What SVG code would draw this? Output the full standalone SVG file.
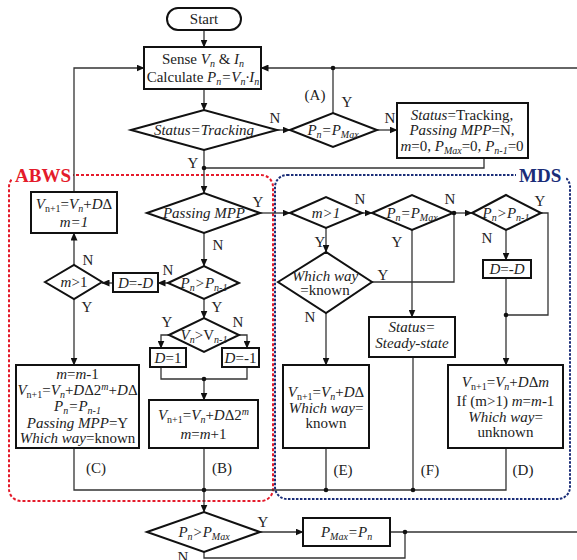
<svg xmlns="http://www.w3.org/2000/svg" width="577" height="560" viewBox="0 0 577 560">
<defs>
<marker id="ar" markerUnits="userSpaceOnUse" markerWidth="8" markerHeight="7" refX="7.5" refY="3.5" orient="auto"><path d="M0,0 L8,3.5 L0,7 z" fill="#111"/></marker>
<style>
.t{font-family:"Liberation Serif","Times New Roman",serif;font-size:15px;fill:#222;text-anchor:middle}
.l{font-family:"Liberation Serif","Times New Roman",serif;font-size:15px;fill:#222;text-anchor:middle}
.i{font-style:italic}
.s{font-size:10px;baseline-shift:-2.5px}
.p{font-size:10px;baseline-shift:5px}
.b{fill:#fff;stroke:#111;stroke-width:2}
.c{fill:none;stroke:#333;stroke-width:1.3}
.a{marker-end:url(#ar)}
.d{fill:#111}
.g{font-family:"Liberation Serif","Times New Roman",serif;font-size:19px;font-weight:bold}
</style>
</defs>
<rect width="577" height="560" fill="#fff"/>

<g id="regions">
<rect x="9" y="175" width="264" height="326" rx="12" fill="none" stroke="#e41b2b" stroke-width="2" stroke-dasharray="3,2"/>
<rect x="275" y="175" width="295" height="324" rx="12" fill="none" stroke="#1a2d78" stroke-width="2" stroke-dasharray="2.5,1.5"/>
<rect x="12" y="164" width="61" height="20" fill="#fff"/>
<text x="15" y="182" class="g" fill="#e41b2b">ABWS</text>
<rect x="516" y="164" width="50" height="20" fill="#fff"/>
<text x="519" y="182" class="g" fill="#1a2d78">MDS</text>
</g>

<g id="connectors">
<path class="c a" d="M204,30 V47"/>
<path class="c a" d="M204,89 V110"/>
<path class="c a" d="M277,130 H290"/>
<path class="c" d="M333,113 V68"/>
<path class="c a" d="M577,68 H261"/>
<path class="c a" d="M377,130 H397"/>
<path class="c" d="M484,158 V168 H204"/>
<path class="c a" d="M204,150 V193"/>
<path class="c a" d="M260,213 H290"/>
<path class="c a" d="M204,233 V266"/>
<path class="c a" d="M168,283 H158"/>
<path class="c a" d="M113,283 H102"/>
<path class="c a" d="M74,265 V233"/>
<path class="c a" d="M74,192 V68 H144"/>
<path class="c a" d="M74,299 V365"/>
<path class="c a" d="M204,299 V318"/>
<path class="c a" d="M169,335 H161 V348"/>
<path class="c a" d="M239,335 H247 V348"/>
<path class="c" d="M161,367 V379 H247 V367"/>
<path class="c a" d="M204,379 V400"/>
<path class="c" d="M74,448 V490 H506 V448"/>
<path class="c" d="M204,448 V490"/>
<path class="c a" d="M204,490 V512"/>
<path class="c" d="M326,448 V490"/>
<path class="c" d="M413,357 V490"/>
<path class="c a" d="M362,213 H372"/>
<path class="c a" d="M453,213 H472"/>
<path class="c" d="M372,282 H454 V213"/>
<path class="c a" d="M326,228 V252"/>
<path class="c a" d="M326,313 V365"/>
<path class="c a" d="M412,230 V317"/>
<path class="c" d="M541,213 H548 V315 H506"/>
<path class="c a" d="M506,230 V260"/>
<path class="c a" d="M506,278 V365"/>
<path class="c a" d="M260,532 H303"/>
<path class="c" d="M390,532 H577"/>
<path class="c" d="M204,552 V558 H405 V532"/>
<circle class="d" cx="333" cy="68" r="2.3"/>
<circle class="d" cx="204" cy="168" r="2.3"/>
<circle class="d" cx="204" cy="379" r="2.3"/>
<circle class="d" cx="204" cy="490" r="2.3"/>
<circle class="d" cx="326" cy="490" r="2.3"/>
<circle class="d" cx="413" cy="490" r="2.3"/>
<circle class="d" cx="454" cy="213" r="2.3"/>
<circle class="d" cx="506" cy="315" r="2.3"/>
<circle class="d" cx="405" cy="532" r="2.3"/>
<text class="l" x="315" y="100">(A)</text>
<text class="l" x="347" y="107">Y</text>
<text class="l" x="275" y="123">N</text>
<text class="l" x="390" y="123">N</text>
<text class="l" x="193" y="168">Y</text>
<text class="l" x="258" y="207">Y</text>
<text class="l" x="218" y="250">N</text>
<text class="l" x="168" y="275">N</text>
<text class="l" x="88" y="265">N</text>
<text class="l" x="87" y="312">Y</text>
<text class="l" x="217" y="312">Y</text>
<text class="l" x="167" y="327">Y</text>
<text class="l" x="238" y="327">N</text>
<text class="l" x="96" y="473">(C)</text>
<text class="l" x="222" y="473">(B)</text>
<text class="l" x="343" y="475">(E)</text>
<text class="l" x="430" y="475">(F)</text>
<text class="l" x="523" y="475">(D)</text>
<text class="l" x="360" y="204">N</text>
<text class="l" x="450" y="204">N</text>
<text class="l" x="540" y="206">Y</text>
<text class="l" x="320" y="247">Y</text>
<text class="l" x="397" y="247">Y</text>
<text class="l" x="487" y="243">N</text>
<text class="l" x="383" y="280">Y</text>
<text class="l" x="310" y="322">N</text>
<text class="l" x="263" y="527">Y</text>
<text class="l" x="183" y="562">N</text>
</g>

<g id="start">
<rect x="167" y="8" width="74" height="22" rx="11" class="b"/>
<text class="t" x="204" y="24">Start</text>
</g>

<g id="sense">
<rect x="144" y="47" width="117" height="42" class="b"/>
<text class="t" x="203" y="64">Sense <tspan class="i">V</tspan><tspan class="s i">n</tspan> &amp; <tspan class="i">I</tspan><tspan class="s i">n</tspan></text>
<text class="t" x="203" y="82">Calculate <tspan class="i">P</tspan><tspan class="s i">n</tspan><tspan class="i">=V</tspan><tspan class="s i">n</tspan><tspan class="i">·I</tspan><tspan class="s i">n</tspan></text>
</g>

<g id="status-tracking">
<polygon points="131,130 204,110 277,130 204,150" class="b"/>
<text class="t i" x="204" y="135">Status=Tracking</text>
</g>

<g id="pn-eq-pmax-a">
<polygon points="290,130 333,113 377,130 333,147" class="b"/>
<text class="t i" x="333" y="135">P<tspan class="s">n</tspan>=P<tspan class="s">Max</tspan></text>
</g>

<g id="reset">
<rect x="397" y="103" width="131" height="55" class="b"/>
<text class="t" x="462" y="120"><tspan class="i">Status</tspan>=Tracking,</text>
<text class="t" x="462" y="135"><tspan class="i">Passing MPP</tspan>=N,</text>
<text class="t" x="462" y="151"><tspan class="i">m</tspan>=0, <tspan class="i">P</tspan><tspan class="s i">Max</tspan>=0, <tspan class="i">P</tspan><tspan class="s i">n-1</tspan>=0</text>
</g>

<g id="passing-mpp">
<polygon points="147,213 204,193 260,213 204,233" class="b"/>
<text class="t i" x="204" y="218">Passing MPP</text>
</g>

<g id="pn-gt-pn1-abws">
<polygon points="168,283 204,266 239,283 204,299" class="b"/>
<text class="t i" x="204" y="288">P<tspan class="s">n</tspan>&gt;P<tspan class="s">n-1</tspan></text>
</g>

<g id="d-neg-abws">
<rect x="113" y="273" width="45" height="19" class="b"/>
<text class="t" x="135.5" y="288"><tspan class="i">D</tspan>=-<tspan class="i">D</tspan></text>
</g>

<g id="m-gt-1-abws">
<polygon points="45,282 74,265 102,282 74,299" class="b"/>
<text class="t" x="74" y="287"><tspan class="i">m</tspan>&gt;1</text>
</g>

<g id="reset-step">
<rect x="31" y="192" width="86" height="41" class="b"/>
<text class="t" x="74" y="209"><tspan class="i">V</tspan><tspan class="s">n+1</tspan>=<tspan class="i">V</tspan><tspan class="s i">n</tspan>+<tspan class="i">D</tspan>Δ</text>
<text class="t i" x="74" y="227">m=1</text>
</g>

<g id="vn-gt-vn1">
<polygon points="169,335 204,318 239,335 204,352" class="b"/>
<text class="t" x="204" y="340"><tspan class="i">V</tspan><tspan class="s i">n</tspan>&gt;V<tspan class="s i">n-1</tspan></text>
</g>

<g id="d-pos1">
<rect x="150" y="348" width="36" height="19" class="b"/>
<text class="t" x="168" y="363"><tspan class="i">D</tspan>=1</text>
</g>

<g id="d-neg1">
<rect x="222" y="348" width="37" height="19" class="b"/>
<text class="t" x="240.5" y="363"><tspan class="i">D</tspan>=-1</text>
</g>

<g id="box-c">
<rect x="16" y="365" width="123" height="83" class="b"/>
<text class="t" x="77.5" y="379"><tspan class="i">m</tspan>=<tspan class="i">m</tspan>-1</text>
<text class="t" x="77.5" y="395"><tspan class="i">V</tspan><tspan class="s">n+1</tspan>=<tspan class="i">V</tspan><tspan class="s i">n</tspan>+<tspan class="i">D</tspan>Δ2<tspan class="p i">m</tspan>+<tspan class="i">D</tspan>Δ</text>
<text class="t i" x="77.5" y="411">P<tspan class="s">n</tspan>=P<tspan class="s">n-1</tspan></text>
<text class="t" x="77.5" y="428"><tspan class="i">Passing MPP</tspan>=Y</text>
<text class="t" x="77.5" y="443"><tspan class="i">Which way</tspan>=known</text>
</g>

<g id="box-b">
<rect x="149" y="400" width="109" height="48" class="b"/>
<text class="t" x="203.5" y="420"><tspan class="i">V</tspan><tspan class="s">n+1</tspan>=<tspan class="i">V</tspan><tspan class="s i">n</tspan>+<tspan class="i">D</tspan>Δ2<tspan class="p i">m</tspan></text>
<text class="t" x="203.5" y="439"><tspan class="i">m</tspan>=<tspan class="i">m</tspan>+1</text>
</g>

<g id="m-gt-1-mds">
<polygon points="290,213 326,197 362,213 326,228" class="b"/>
<text class="t i" x="326" y="218">m&gt;1</text>
</g>

<g id="pn-eq-pmax-mds">
<polygon points="372,213 412,195 453,213 412,230" class="b"/>
<text class="t i" x="412" y="218">P<tspan class="s">n</tspan>=P<tspan class="s">Max</tspan></text>
</g>

<g id="pn-gt-pn1-mds">
<polygon points="472,213 506,195 541,213 506,230" class="b"/>
<text class="t i" x="506" y="218">P<tspan class="s">n</tspan>&gt;P<tspan class="s">n-1</tspan></text>
</g>

<g id="which-way">
<polygon points="278,282 326,252 372,282 326,313" class="b"/>
<text class="t i" x="325" y="281">Which way</text>
<text class="t" x="325" y="295">=known</text>
</g>

<g id="d-neg-mds">
<rect x="483" y="260" width="48" height="18" class="b"/>
<text class="t" x="507" y="274"><tspan class="i">D</tspan>=-<tspan class="i">D</tspan></text>
</g>

<g id="steady-state">
<rect x="369" y="317" width="86" height="40" class="b"/>
<text class="t i" x="412" y="332">Status=</text>
<text class="t i" x="412" y="348">Steady-state</text>
</g>

<g id="box-e">
<rect x="283" y="365" width="86" height="83" class="b"/>
<text class="t" x="326" y="397"><tspan class="i">V</tspan><tspan class="s">n+1</tspan>=<tspan class="i">V</tspan><tspan class="s i">n</tspan>+<tspan class="i">D</tspan>Δ</text>
<text class="t" x="326" y="413"><tspan class="i">Which way</tspan>=</text>
<text class="t" x="326" y="428">known</text>
</g>

<g id="box-d">
<rect x="448" y="365" width="115" height="83" class="b"/>
<text class="t" x="505.5" y="387"><tspan class="i">V</tspan><tspan class="s">n+1</tspan>=<tspan class="i">V</tspan><tspan class="s i">n</tspan>+<tspan class="i">D</tspan>Δ<tspan class="i">m</tspan></text>
<text class="t" x="505.5" y="406">If (m&gt;1) <tspan class="i">m</tspan>=<tspan class="i">m</tspan>-1</text>
<text class="t" x="505.5" y="422"><tspan class="i">Which way</tspan>=</text>
<text class="t" x="505.5" y="437">unknown</text>
</g>

<g id="pn-gt-pmax">
<polygon points="147,532 204,512 260,532 204,552" class="b"/>
<text class="t i" x="204" y="537">P<tspan class="s">n</tspan>&gt;P<tspan class="s">Max</tspan></text>
</g>

<g id="pmax-update">
<rect x="303" y="518" width="87" height="28" class="b"/>
<text class="t i" x="346.5" y="537">P<tspan class="s">Max</tspan>=P<tspan class="s">n</tspan></text>
</g>
</svg>
